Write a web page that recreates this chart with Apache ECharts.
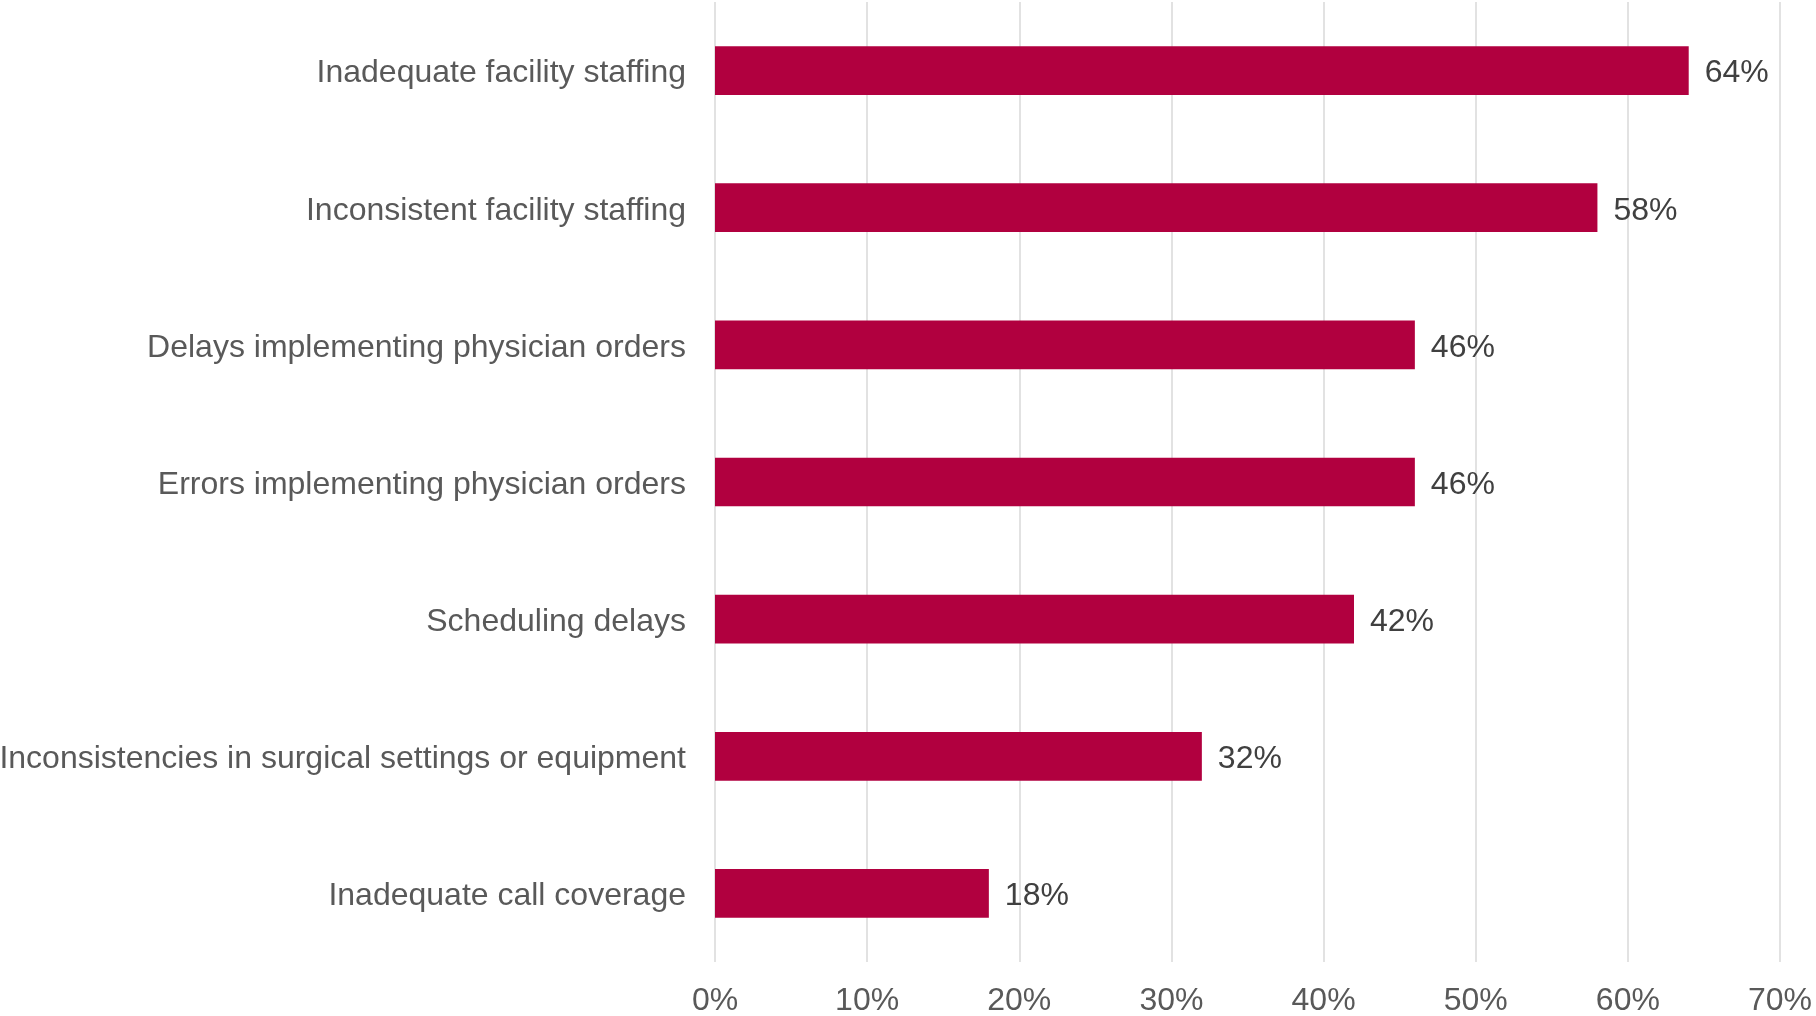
<!DOCTYPE html>
<html>
<head>
<meta charset="utf-8">
<style>
  html, body { margin: 0; padding: 0; background: #ffffff; }
  #chart { width: 1816px; height: 1016px; }
</style>
<script src="https://cdn.jsdelivr.net/npm/echarts@6/dist/echarts.min.js"></script>
</head>
<body>
<div id="chart"></div>
<script>
// Issues reported, top to bottom
const categories = [
  'Inadequate facility staffing',
  'Inconsistent facility staffing',
  'Delays implementing physician orders',
  'Errors implementing physician orders',
  'Scheduling delays',
  'Inconsistencies in surgical settings or equipment',
  'Inadequate call coverage'
];
// Share of respondents, in percent
const values = [64, 58, 46, 46, 42, 32, 18];
// Value axis range and step, in percent
const axisMin = 0;
const axisMax = 70;
const axisStep = 10;

const chart = echarts.init(document.getElementById('chart'), null, { renderer: 'canvas' });

const fontFamily = '"Liberation Sans", Arial, sans-serif';

chart.setOption({
  animation: false,
  backgroundColor: '#ffffff',
  grid: {
    left: 715, right: 36, top: 2, bottom: 54,
    containLabel: false,
    outerBoundsMode: 'none'
  },
  xAxis: {
    type: 'value',
    min: axisMin,
    max: axisMax,
    interval: axisStep,
    axisLine: { show: false },
    axisTick: { show: false },
    splitLine: { show: true, lineStyle: { color: '#d9d9d9', width: 1.5 } },
    axisLabel: {
      formatter: v => v + '%',
      color: '#595959',
      fontSize: 32,
      fontFamily: fontFamily,
      margin: 23
    }
  },
  yAxis: {
    type: 'category',
    inverse: true,
    data: categories,
    axisLine: { show: false },
    axisTick: { show: false },
    splitLine: { show: false },
    axisLabel: {
      margin: 29,
      formatter: v => '{cat|' + v + '}',
      rich: {
        cat: {
          color: '#595959',
          fontSize: 32,
          fontFamily: fontFamily,
          padding: [6, 0, 0, 0]
        }
      }
    }
  },
  series: [{
    type: 'bar',
    data: values,
    barCategoryGap: '64.5%',
    itemStyle: { color: '#b1003f' },
    label: {
      show: true,
      position: 'right',
      distance: 16,
      offset: [0, 3],
      formatter: p => p.value + '%',
      color: '#404040',
      fontSize: 32,
      fontFamily: fontFamily
    }
  }]
});
</script>
</body>
</html>
